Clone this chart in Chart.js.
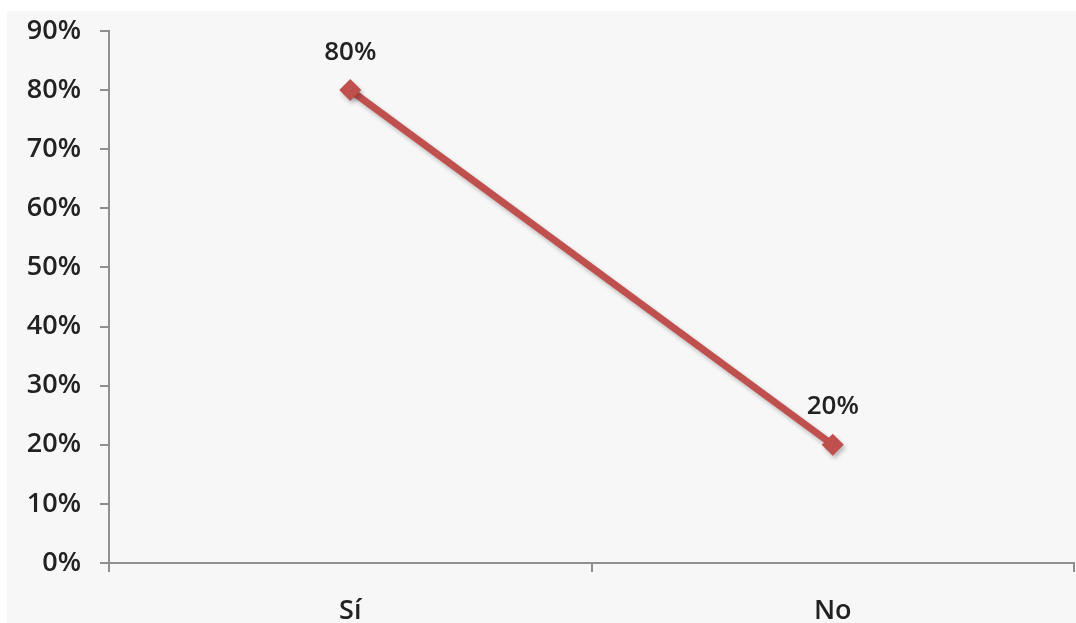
<!DOCTYPE html>
<html>
<head>
<meta charset="utf-8">
<script src="https://cdn.jsdelivr.net/npm/chart.js@4/dist/chart.umd.min.js"></script>
<style>
  html, body { margin: 0; padding: 0; background: #ffffff; }
  #box { position: absolute; left: 7px; top: 11px; width: 1069px; height: 612px; background: #f7f7f7; }
  #box canvas { display: block; }
</style>
</head>
<body>
<div id="box"><canvas id="grafico" width="1069" height="612"></canvas></div>
<script>
// datos del gráfico
const categorias = ['Sí', 'No'];
const valores = [0.8, 0.2];
const etiquetas = ['80%', '20%'];
const ticksY = [0, 0.1, 0.2, 0.3, 0.4, 0.5, 0.6, 0.7, 0.8, 0.9];

const ROJO = '#c0504d';
const EJE = '#8f8f8f';
const TEXTO = '#222222';
const FUENTE = { family: 'Open Sans', size: 27, weight: '600' };

// sombra suave en la línea y los marcadores
const sombra = {
    id: 'sombra',
    beforeDatasetsDraw(chart) {
        const ctx = chart.ctx;
        ctx.save();
        ctx.shadowColor = 'rgba(0,0,0,0.25)';
        ctx.shadowBlur = 4;
        ctx.shadowOffsetX = 2;
        ctx.shadowOffsetY = 3;
    },
    afterDatasetsDraw(chart) {
        chart.ctx.restore();
    }
};

// etiquetas de valor encima de cada punto
const etiquetasValor = {
    id: 'etiquetasValor',
    afterDatasetsDraw(chart) {
        const ctx = chart.ctx;
        const meta = chart.getDatasetMeta(0);
        ctx.save();
        ctx.font = '600 26px "Open Sans"';
        ctx.fillStyle = TEXTO;
        ctx.textAlign = 'center';
        ctx.textBaseline = 'middle';
        meta.data.forEach((pt, i) => {
            ctx.fillText(etiquetas[i], pt.x, pt.y - 38);
        });
        ctx.restore();
    }
};

const ctx = document.getElementById('grafico').getContext('2d');
new Chart(ctx, {
    type: 'line',
    data: {
        labels: categorias,
        datasets: [{
            data: valores,
            borderColor: ROJO,
            backgroundColor: ROJO,
            borderWidth: 7,
            pointStyle: 'rectRot',
            pointRadius: 11,
            pointBorderWidth: 0,
            tension: 0
        }]
    },
    options: {
        responsive: false,
        animation: false,
        layout: { autoPadding: false, padding: { top: 20, right: 2, left: 0, bottom: 0 } },
        plugins: { legend: { display: false }, tooltip: { enabled: false } },
        scales: {
            x: {
                offset: true,
                grid: { offset: true, drawOnChartArea: false, drawTicks: true, tickLength: 9, color: EJE, lineWidth: 2 },
                border: { display: true, color: EJE, width: 2 },
                ticks: { color: TEXTO, font: FUENTE, padding: 23 },
                afterFit(s) { s.height = 60; s.paddingLeft = 0; s.paddingRight = 0; }
            },
            y: {
                min: 0,
                max: 0.9,
                afterBuildTicks(s) { s.ticks = ticksY.map(v => ({ value: v })); },
                grid: { drawOnChartArea: false, drawTicks: true, tickLength: 9, color: EJE, lineWidth: 2 },
                border: { display: true, color: EJE, width: 2 },
                ticks: {
                    color: TEXTO,
                    font: FUENTE,
                    padding: 19,
                    callback: v => Math.round(v * 100) + '%'
                },
                afterFit(s) { s.width = 102; s.paddingTop = 0; s.paddingBottom = 0; }
            }
        }
    },
    plugins: [sombra, etiquetasValor]
});
</script>
</body>
</html>
